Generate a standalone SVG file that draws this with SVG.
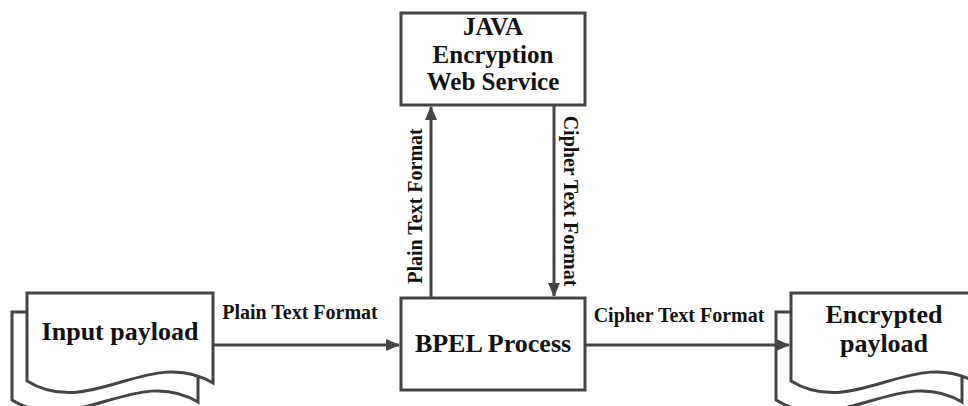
<svg xmlns="http://www.w3.org/2000/svg" width="968" height="406" viewBox="0 0 968 406">
  <style>
    .box { fill: #ffffff; stroke: #444444; stroke-width: 3; }
    .doc { fill: #ffffff; stroke: #444444; stroke-width: 3; stroke-linejoin: miter; }
    .edge { fill: none; stroke: #444444; stroke-width: 3; }
    .title { font-family: "Liberation Serif", "Times New Roman", serif; font-weight: bold; font-size: 26px; fill: #111111; text-anchor: middle; }
    .svc { font-size: 25px; }
    .label { font-family: "Liberation Serif", "Times New Roman", serif; font-weight: bold; font-size: 20px; fill: #111111; text-anchor: middle; }
  </style>
  <defs>
    <!-- page outline with wavy bottom edge -->
    <path id="page" d="M0,0 H186 V90 C123,52 63,127 0,88 Z"/>
    <marker id="arrow" markerUnits="userSpaceOnUse" markerWidth="14" markerHeight="12" refX="13" refY="6" orient="auto">
      <path d="M0,0 L14,6 L0,12 Z" fill="#444444"/>
    </marker>
  </defs>

  <rect width="968" height="406" fill="#ffffff"/>

  <!-- input documents -->
  <g id="input-payload">
    <use href="#page" class="doc" transform="translate(12,312)"/>
    <use href="#page" class="doc" transform="translate(27,293)"/>
    <text class="title" x="120" y="340">Input payload</text>
  </g>

  <!-- orchestration process -->
  <g id="bpel-process">
    <rect class="box" x="401" y="298" width="184" height="92"/>
    <text class="title" x="493" y="352">BPEL Process</text>
  </g>

  <!-- encryption service -->
  <g id="java-service">
    <rect class="box" x="401" y="13" width="184" height="92"/>
    <text class="title svc" x="493" y="35">JAVA</text>
    <text class="title svc" x="493" y="63">Encryption</text>
    <text class="title svc" x="493" y="90">Web Service</text>
  </g>

  <!-- output documents -->
  <g id="encrypted-payload">
    <use href="#page" class="doc" transform="translate(776,312)"/>
    <use href="#page" class="doc" transform="translate(791,293)"/>
    <text class="title" x="884" y="323">Encrypted</text>
    <text class="title" x="884" y="352">payload</text>
  </g>

  <!-- connectors -->
  <g id="connectors">
    <line class="edge" x1="213" y1="345" x2="399" y2="345" marker-end="url(#arrow)"/>
    <line class="edge" x1="585" y1="345" x2="789" y2="345" marker-end="url(#arrow)"/>
    <line class="edge" x1="431" y1="298" x2="431" y2="107" marker-end="url(#arrow)"/>
    <line class="edge" x1="554" y1="105" x2="554" y2="296" marker-end="url(#arrow)"/>
    <text class="label" x="300" y="319">Plain Text Format</text>
    <text class="label" x="679" y="322">Cipher Text Format</text>
    <text class="label" transform="translate(422,206) rotate(-90)">Plain Text Format</text>
    <text class="label" transform="translate(564,201) rotate(90)">Cipher Text Format</text>
  </g>
</svg>
